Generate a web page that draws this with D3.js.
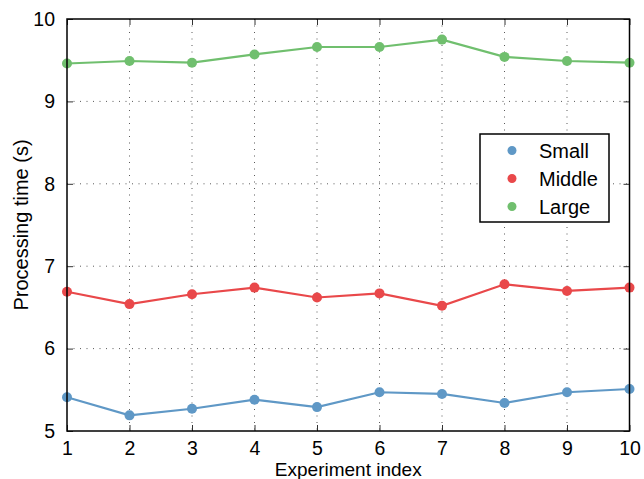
<!DOCTYPE html>
<html>
<head>
<meta charset="utf-8">
<script src="https://cdn.jsdelivr.net/npm/d3@7"></script>
<style>
  body { margin: 0; background: #fff; }
  svg text { font-family: "Liberation Sans", Arial, sans-serif; }
</style>
</head>
<body>
<script>
const W = 644, H = 479;
const margin = { top: 19, right: 14.5, bottom: 48, left: 67 };

// data
const experiments = [1, 2, 3, 4, 5, 6, 7, 8, 9, 10];
const small = [5.41, 5.19, 5.27, 5.38, 5.29, 5.47, 5.45, 5.34, 5.47, 5.51];
const middle = [6.69, 6.54, 6.66, 6.74, 6.62, 6.67, 6.52, 6.78, 6.70, 6.74];
const large = [9.46, 9.49, 9.47, 9.57, 9.66, 9.66, 9.75, 9.54, 9.49, 9.47];
const seriesNames = ['Small', 'Middle', 'Large'];
const seriesColors = ['#5f98c6', '#e9484a', '#70bf6e'];
const xTicks = [1, 2, 3, 4, 5, 6, 7, 8, 9, 10];
const yTicks = [5, 6, 7, 8, 9, 10];

const series = [small, middle, large].map((vals, i) => ({
  name: seriesNames[i],
  color: seriesColors[i],
  values: vals.map((v, j) => ({ x: experiments[j], y: v }))
}));

const svg = d3.select('body').append('svg')
    .attr('width', W)
    .attr('height', H);

const iw = W - margin.left - margin.right;
const ih = H - margin.top - margin.bottom;

const x = d3.scaleLinear().domain([1, 10]).range([margin.left, margin.left + iw]);
const y = d3.scaleLinear().domain([5, 10]).range([margin.top + ih, margin.top]);

// grid
const grid = svg.append('g')
    .attr('stroke', '#000')
    .attr('stroke-opacity', 0.65)
    .attr('stroke-width', 1)
    .attr('stroke-dasharray', '1,5.5');
grid.selectAll('.gx').data(xTicks.slice(1, -1)).join('line')
    .attr('x1', d => x(d)).attr('x2', d => x(d))
    .attr('y1', margin.top).attr('y2', margin.top + ih);
grid.selectAll('.gy').data(yTicks.slice(1, -1)).join('line')
    .attr('y1', d => y(d)).attr('y2', d => y(d))
    .attr('x1', margin.left).attr('x2', margin.left + iw);

// axes, inward ticks on all four sides
const tickStyle = g => {
  g.attr('font-family', null).attr('font-size', null);
  g.select('.domain').remove();
  g.selectAll('.tick line').attr('stroke', '#333').attr('stroke-width', 1);
  g.selectAll('.tick text').style('font-size', '19.5px').attr('fill', '#000');
};
const fmt = d3.format('d');

svg.append('g')
    .attr('transform', `translate(0,${margin.top + ih})`)
    .call(d3.axisBottom(x).tickValues(xTicks).tickFormat(fmt).tickSizeInner(-6).tickPadding(10))
    .call(tickStyle);
svg.append('g')
    .attr('transform', `translate(0,${margin.top})`)
    .call(d3.axisTop(x).tickValues(xTicks).tickSizeInner(-6).tickFormat(''))
    .call(tickStyle);
svg.append('g')
    .attr('transform', `translate(${margin.left},0)`)
    .call(d3.axisLeft(y).tickValues(yTicks).tickFormat(fmt).tickSizeInner(-6).tickPadding(12))
    .call(tickStyle);
svg.append('g')
    .attr('transform', `translate(${margin.left + iw},0)`)
    .call(d3.axisRight(y).tickValues(yTicks).tickSizeInner(-6).tickFormat(''))
    .call(tickStyle);

// lines and markers
const line = d3.line().x(d => x(d.x)).y(d => y(d.y));
const sg = svg.append('g').selectAll('g').data(series).join('g');
sg.append('path')
    .attr('d', d => line(d.values))
    .attr('fill', 'none')
    .attr('stroke', d => d.color)
    .attr('stroke-width', 2.2);
sg.selectAll('circle').data(d => d.values.map(v => ({ ...v, color: d.color }))).join('circle')
    .attr('cx', d => x(d.x))
    .attr('cy', d => y(d.y))
    .attr('r', 5)
    .attr('fill', d => d.color);

// frame
svg.append('rect')
    .attr('x', margin.left).attr('y', margin.top)
    .attr('width', iw).attr('height', ih)
    .attr('fill', 'none')
    .attr('stroke', '#000')
    .attr('stroke-width', 1.5);

// axis labels
svg.append('text')
    .attr('x', margin.left + iw / 2)
    .attr('y', 476)
    .attr('text-anchor', 'middle')
    .style('font-size', '19px')
    .text('Experiment index');
svg.append('text')
    .attr('transform', `translate(28,${margin.top + ih / 2}) rotate(-90)`)
    .attr('text-anchor', 'middle')
    .style('font-size', '20px')
    .text('Processing time (s)');

// legend
const lg = svg.append('g').attr('transform', 'translate(480,134)');
lg.append('rect')
    .attr('width', 129).attr('height', 88)
    .attr('fill', '#fff')
    .attr('stroke', '#000')
    .attr('stroke-width', 1.5);
const items = lg.selectAll('.item').data(series).join('g')
    .attr('transform', (d, i) => `translate(0,${16.5 + i * 28})`);
items.append('circle')
    .attr('cx', 32).attr('cy', 0).attr('r', 4.5)
    .attr('fill', d => d.color);
items.append('text')
    .attr('x', 59).attr('y', 0)
    .attr('dy', '0.35em')
    .style('font-size', '20px')
    .text(d => d.name);
</script>
</body>
</html>
